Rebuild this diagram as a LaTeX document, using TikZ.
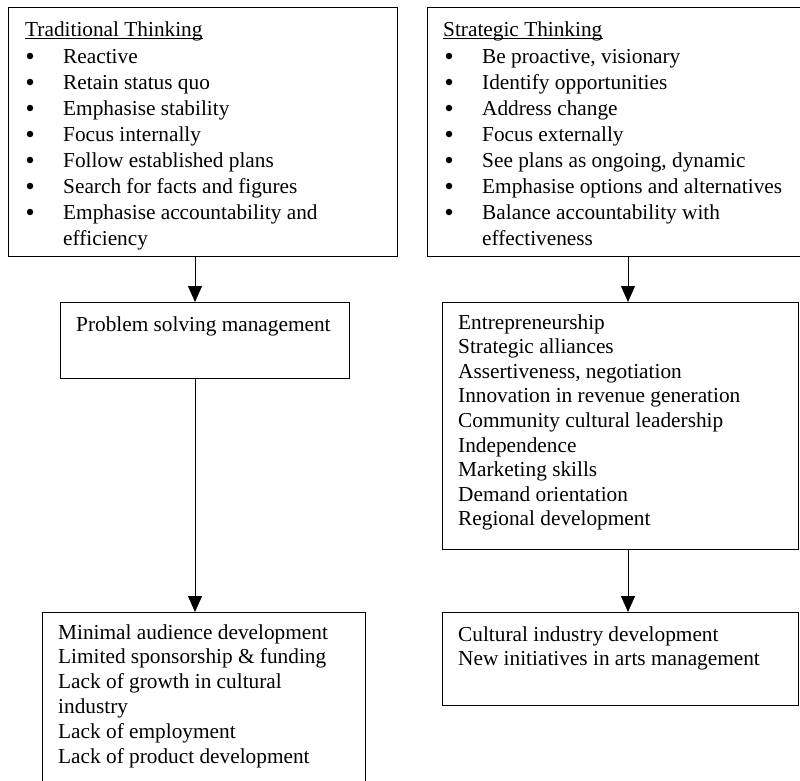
\documentclass[tikz,border=0pt]{standalone}
\usepackage{fontspec}
\setmainfont{Liberation Serif}
\usetikzlibrary{arrows.meta}
\begin{document}
\begin{tikzpicture}[x=1pt,y=-1pt,
  box/.style={draw, line width=1.4pt, inner sep=0pt, anchor=north west},
  txt/.style={anchor=base west, inner sep=0pt, font=\fontsize{21.3}{24}\selectfont},
  bul/.style={circle, fill, inner sep=0pt, minimum size=6.5pt},
  uline/.style={line width=0.9pt},
  arr/.style={line width=1pt, -{Triangle[length=16pt,width=14pt]}}]
\useasboundingbox (0,0) rectangle (800,780);
\clip (0,0) rectangle (800,780);
% boxes
\node[box, minimum width=389pt, minimum height=249pt] (b1) at (8,7) {};
\node[box, minimum width=385pt, minimum height=249pt] (b2) at (427,7) {};
\node[box, minimum width=289pt, minimum height=76pt] (b3) at (60,302) {};
\node[box, minimum width=356pt, minimum height=247pt] (b4) at (442,302) {};
\node[box, minimum width=323pt, minimum height=200pt] (b5) at (42,612) {};
\node[box, minimum width=356pt, minimum height=93pt] (b6) at (442,612) {};
% titles
\node[txt] (t1) at (25,36) {Traditional Thinking};
\draw[uline] ([yshift=-2pt]t1.base west) -- ([yshift=-2pt]t1.base east);
\node[txt] (t2) at (443,36) {Strategic Thinking};
\draw[uline] ([yshift=-2pt]t2.base west) -- ([yshift=-2pt]t2.base east);
% box 1 list
\foreach \t [count=\i from 0] in {Reactive, Retain status quo, Emphasise stability, Focus internally, Follow established plans, Search for facts and figures, Emphasise accountability and}{
  \node[bul] (p1-\i) at (30,{63+26*\i-7}) {};
  \node[txt] (l1-\i) at (63,{63+26*\i}) {\t};
}
\node[txt] (l1-7) at (63,245) {efficiency};
% box 2 list
\foreach \t [count=\i from 0] in {{Be proactive, visionary}, Identify opportunities, Address change, Focus externally, {See plans as ongoing, dynamic}, Emphasise options and alternatives, Balance accountability with}{
  \node[bul] (p2-\i) at (449,{63+26*\i-7}) {};
  \node[txt] (l2-\i) at (482,{63+26*\i}) {\t};
}
\node[txt] (l2-7) at (482,245) {effectiveness};
% box 3
\node[txt] (l3) at (76,331) {Problem solving management};
% box 4
\foreach \t [count=\i from 0] in {Entrepreneurship, Strategic alliances, {Assertiveness, negotiation}, Innovation in revenue generation, Community cultural leadership, Independence, Marketing skills, Demand orientation, Regional development}{
  \node[txt] (l4-\i) at (458,{329+24.6*\i}) {\t};
}
% box 5
\foreach \t [count=\i from 0] in {Minimal audience development, Limited sponsorship \& funding, Lack of growth in cultural, industry, Lack of employment, Lack of product development}{
  \node[txt] (l5-\i) at (58,{639+24.8*\i}) {\t};
}
% box 6
\node[txt] (l6-0) at (458,641) {Cultural industry development};
\node[txt] (l6-1) at (458,665) {New initiatives in arts management};
% arrows
\coordinate (ax) at (195,0);
\coordinate (bx) at (628,0);
\draw[arr] (b1.south -| ax) -- (b3.north -| ax);
\draw[arr] (b3.south -| ax) -- (b5.north -| ax);
\draw[arr] (b2.south -| bx) -- (b4.north -| bx);
\draw[arr] (b4.south -| bx) -- (b6.north -| bx);
\end{tikzpicture}
\end{document}
